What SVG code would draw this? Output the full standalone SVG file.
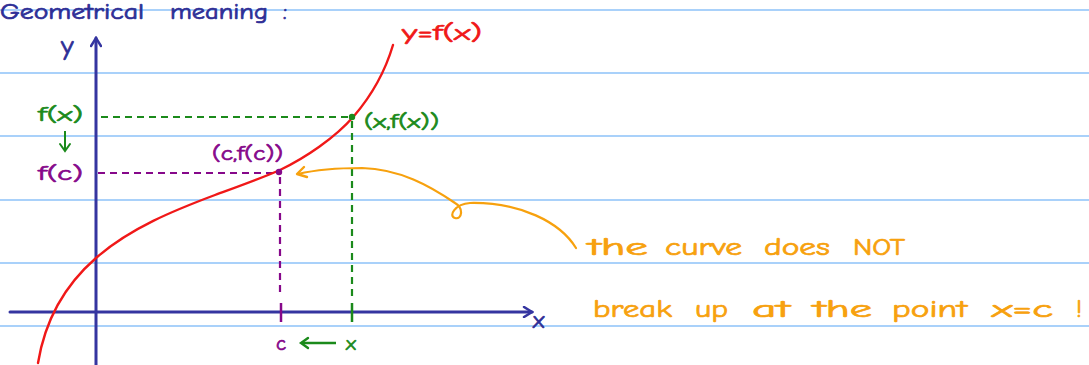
<svg xmlns="http://www.w3.org/2000/svg" width="1089" height="365" viewBox="0 0 1089 365">
<style>
.rule{stroke:#a9d1fa;stroke-width:2}
.ax{stroke:#3535a0;stroke-width:3;fill:none;stroke-linecap:round}
.t{font-family:"Comic Neue","Liberation Sans",sans-serif;stroke-width:0.7;paint-order:stroke}
.blue{fill:#2e2e96;stroke:#2e2e96}
.grn{fill:#1b8a1b;stroke:#1b8a1b}
.pur{fill:#86088a;stroke:#86088a}
.org{fill:#f7a10e;stroke:#f7a10e}
.red{fill:#f01818;stroke:#f01818}
.gd{stroke:#1b8a1b;stroke-width:2.2;stroke-dasharray:7,5;fill:none}
.pd{stroke:#86088a;stroke-width:2.2;stroke-dasharray:7,5;fill:none}
</style>
<defs>
<marker id="ah" markerWidth="12" markerHeight="12" refX="10" refY="6" orient="auto" markerUnits="userSpaceOnUse">
<path d="M2,1 L10,6 L2,11" fill="none" stroke="#3535a0" stroke-width="2.5" stroke-linecap="round"/>
</marker>
</defs>
<rect width="1089" height="365" fill="#fff"/>
<g id="rules">
<line class="rule" x1="0" y1="10" x2="1089" y2="10"/>
<line class="rule" x1="0" y1="73" x2="1089" y2="73"/>
<line class="rule" x1="0" y1="136" x2="1089" y2="136"/>
<line class="rule" x1="0" y1="200" x2="1089" y2="200"/>
<line class="rule" x1="0" y1="263" x2="1089" y2="263"/>
<line class="rule" x1="0" y1="326" x2="1089" y2="326"/>
</g>
<g id="title"><text class="t blue" x="0" y="19" font-size="22" textLength="144" lengthAdjust="spacingAndGlyphs">Geometrical</text><text class="t blue" x="170" y="19" font-size="22" textLength="98" lengthAdjust="spacingAndGlyphs">meaning</text><text class="t blue" x="283" y="19" font-size="22">:</text></g>
<g id="connectors">
<line class="ax" x1="96" y1="365" x2="96" y2="38" marker-end="url(#ah)"/>
<line class="ax" x1="10" y1="312" x2="532" y2="312" marker-end="url(#ah)"/>
<line class="gd" x1="101" y1="117" x2="350" y2="117"/>
<line class="gd" x1="352" y1="121" x2="352" y2="300"/>
<line class="pd" x1="98" y1="173" x2="276" y2="173"/>
<line class="pd" x1="280" y1="177" x2="280" y2="296"/>
<line x1="352" y1="303" x2="352" y2="322" stroke="#1b8a1b" stroke-width="2.5"/>
<line x1="281" y1="303" x2="281" y2="322" stroke="#86088a" stroke-width="2.5"/>
<path d="M576,248 C560,222 520,202 470,203 C455,204 448,216 455,218 C462,220 464,208 455,203 C430,186 400,169 362,168 C335,168 315,170 298,174" fill="none" stroke="#f7a10e" stroke-width="2.2" stroke-linecap="round"/>
<path d="M304,167 L297,174 L307,177" fill="none" stroke="#f7a10e" stroke-width="2.4" stroke-linecap="round" stroke-linejoin="round"/>
<line x1="65" y1="131" x2="65" y2="150" stroke="#1b8a1b" stroke-width="2"/>
<path d="M60,144 L65,151 L70,144" fill="none" stroke="#1b8a1b" stroke-width="2" stroke-linecap="round"/>
<line x1="302" y1="343" x2="336" y2="343" stroke="#1b8a1b" stroke-width="2.4"/>
<path d="M308,338 L301,343 L308,348" fill="none" stroke="#1b8a1b" stroke-width="2.4" stroke-linecap="round"/>
</g>
<g id="curve">
<path d="M38,363 C45,320 65,285 96,258 C130,228 175,210 215,195 C245,184 262,178 280,170 C305,158 335,138 354,116 C372,95 385,72 393,45" fill="none" stroke="#f01818" stroke-width="2.4" stroke-linecap="round"/>
<circle cx="352" cy="117" r="3.2" fill="#1b8a1b"/>
<circle cx="279" cy="172" r="3.2" fill="#86088a"/>
</g>
<g id="labels">
<text class="t blue" x="61" y="55" font-size="28">y</text>
<text class="t blue" x="533" y="328" font-size="24">x</text>
<text class="t red" x="402" y="40" font-size="23" textLength="80" lengthAdjust="spacingAndGlyphs">y=f(x)</text>
<text class="t grn" x="38" y="121" font-size="21" textLength="45" lengthAdjust="spacingAndGlyphs">f(x)</text>
<text class="t pur" x="38" y="180" font-size="21" textLength="45" lengthAdjust="spacingAndGlyphs">f(c)</text>
<text class="t grn" x="364" y="128" font-size="20" textLength="75" lengthAdjust="spacingAndGlyphs">(x,f(x))</text>
<text class="t pur" x="212" y="160" font-size="20" textLength="71" lengthAdjust="spacingAndGlyphs">(c,f(c))</text>
<text class="t pur" x="276" y="350" font-size="21">c</text>
<text class="t grn" x="346" y="350" font-size="21">x</text>
</g>
<g id="note" font-size="24">
<text class="t org" x="588" y="255" textLength="60" lengthAdjust="spacingAndGlyphs">the</text>
<text class="t org" x="665" y="255" textLength="77" lengthAdjust="spacingAndGlyphs">curve</text>
<text class="t org" x="764" y="255" textLength="66" lengthAdjust="spacingAndGlyphs">does</text>
<text class="t org" x="853" y="255" textLength="52" lengthAdjust="spacingAndGlyphs">NOT</text>
<text class="t org" x="593" y="317" textLength="79" lengthAdjust="spacingAndGlyphs">break</text>
<text class="t org" x="695" y="317" textLength="33" lengthAdjust="spacingAndGlyphs">up</text>
<text class="t org" x="752" y="317" textLength="38" lengthAdjust="spacingAndGlyphs">at</text>
<text class="t org" x="813" y="317" textLength="59" lengthAdjust="spacingAndGlyphs">the</text>
<text class="t org" x="892" y="317" textLength="75" lengthAdjust="spacingAndGlyphs">point</text>
<text class="t org" x="992" y="317" textLength="61" lengthAdjust="spacingAndGlyphs">x=c</text>
<text class="t org" x="1076" y="317">!</text>
</g>
</svg>
